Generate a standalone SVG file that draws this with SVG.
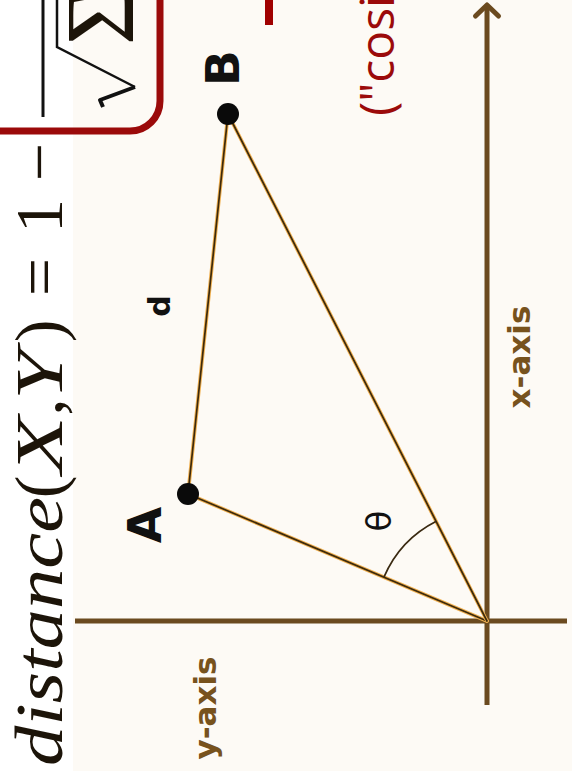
<svg xmlns="http://www.w3.org/2000/svg" width="572" height="771" viewBox="0 0 572 771">
<style>
.m{font-family:"Liberation Serif","Times New Roman",serif;font-size:68px;fill:#1c1409}
.i{font-style:italic}
.lbl{font-family:"DejaVu Sans",sans-serif;font-weight:bold;fill:#111}
.ax{font-family:"DejaVu Sans",sans-serif;font-weight:bold;font-size:31px;fill:#77521d}
.axis{stroke:#6b4a1f;stroke-width:5;fill:none}
.halo{stroke:#f0b050;stroke-width:3.6;fill:none;stroke-linecap:round}
.edge{stroke:#3d2a0c;stroke-width:1.7;fill:none;stroke-linecap:round}
.red{fill:#9b0a0a;font-family:"Open Sans",sans-serif;font-size:48px}
.dot{fill:#0a0a0a}
</style>
<defs>
<marker id="arr" markerUnits="userSpaceOnUse" orient="auto" refX="0" refY="0" markerWidth="30" markerHeight="30" overflow="visible">
<path d="M-8,-11.5 L3,0 L-8,11.5" fill="none" stroke="#6b4a1f" stroke-width="5" stroke-linecap="round" stroke-linejoin="round"/>
</marker>
</defs>
<rect width="572" height="771" fill="#ffffff"/>
<rect x="73" y="0" width="499" height="771" fill="#fdfaf5"/>

<g id="formula">
<text class="m i" transform="translate(62,766) rotate(-90)" textLength="269" lengthAdjust="spacingAndGlyphs">distance</text>
<text class="m" transform="translate(62,487) rotate(-90)" text-anchor="middle">(</text>
<text class="m i" transform="translate(62,445) rotate(-90)" text-anchor="middle" textLength="58" lengthAdjust="spacingAndGlyphs">X</text>
<text class="m" transform="translate(62,407) rotate(-90)" text-anchor="middle">,</text>
<text class="m i" transform="translate(62,375) rotate(-90)" text-anchor="middle" textLength="50" lengthAdjust="spacingAndGlyphs">Y</text>
<text class="m" transform="translate(62,331) rotate(-90)" text-anchor="middle">)</text>
<text class="m" transform="translate(62,277) rotate(-90)" text-anchor="middle">=</text>
<text class="m" transform="translate(62,216) rotate(-90)" text-anchor="middle">1</text>
<text class="m" transform="translate(62,162) rotate(-90)" text-anchor="middle">−</text>
<line x1="43" y1="-5" x2="43" y2="117" stroke="#111" stroke-width="3"/>
<polyline points="57,-5 57,47 135,87" fill="none" stroke="#111" stroke-width="2.5"/>
<polyline points="135,87 100,100 103,107" fill="none" stroke="#111" stroke-width="4" stroke-linejoin="round"/>
<text transform="translate(133,45) rotate(-90)" style="font-family:'Liberation Serif',serif;font-size:98px;fill:#1c1409">Σ</text>
</g>

<g id="highlight">
<rect x="-60" y="-60" width="220" height="191" rx="30" fill="none" stroke="#9b0a0a" stroke-width="7"/>
<rect x="265" y="-2" width="8" height="27" fill="#a00000"/>
<text class="red" transform="translate(394,116) rotate(-90)">("cosi</text>
</g>

<g id="connectors">
<line id="y-axis-line" class="axis" x1="75" y1="621" x2="567" y2="621"/>
<line id="x-axis-line" class="axis" x1="487" y1="705" x2="487" y2="8" marker-end="url(#arr)"/>
<g id="edge-OA"><line class="halo" x1="487" y1="621" x2="188" y2="494"/><line class="edge" x1="487" y1="621" x2="188" y2="494"/></g>
<g id="edge-AB"><line class="halo" x1="188" y1="494" x2="228" y2="114"/><line class="edge" x1="188" y1="494" x2="228" y2="114"/></g>
<g id="edge-BO"><line class="halo" x1="228" y1="114" x2="487" y2="621"/><line class="edge" x1="228" y1="114" x2="487" y2="621"/></g>
<path id="angle-arc" d="M384,577 A112,112 0 0,1 436.3,521.2" stroke="#3a2a12" stroke-width="1.8" fill="none"/>
</g>

<g id="node-A">
<circle class="dot" cx="188" cy="494" r="11"/>
<text class="lbl" font-size="47" transform="translate(161,525) rotate(-90)" text-anchor="middle">A</text>
</g>
<g id="node-B">
<circle class="dot" cx="228" cy="114" r="11"/>
<text class="lbl" font-size="47" transform="translate(239,68) rotate(-90)" text-anchor="middle">B</text>
</g>
<g id="label-d">
<text class="lbl" font-size="30" transform="translate(170,306) rotate(-90)" text-anchor="middle">d</text>
</g>
<g id="label-theta">
<text transform="translate(391,521) rotate(-90)" text-anchor="middle" style="font-family:'DejaVu Sans',sans-serif;font-size:34px;fill:#111">θ</text>
</g>
<g id="label-x-axis">
<text class="ax" transform="translate(530,357) rotate(-90)" text-anchor="middle">x-axis</text>
</g>
<g id="label-y-axis">
<text class="ax" transform="translate(216,708) rotate(-90)" text-anchor="middle">y-axis</text>
</g>
</svg>
